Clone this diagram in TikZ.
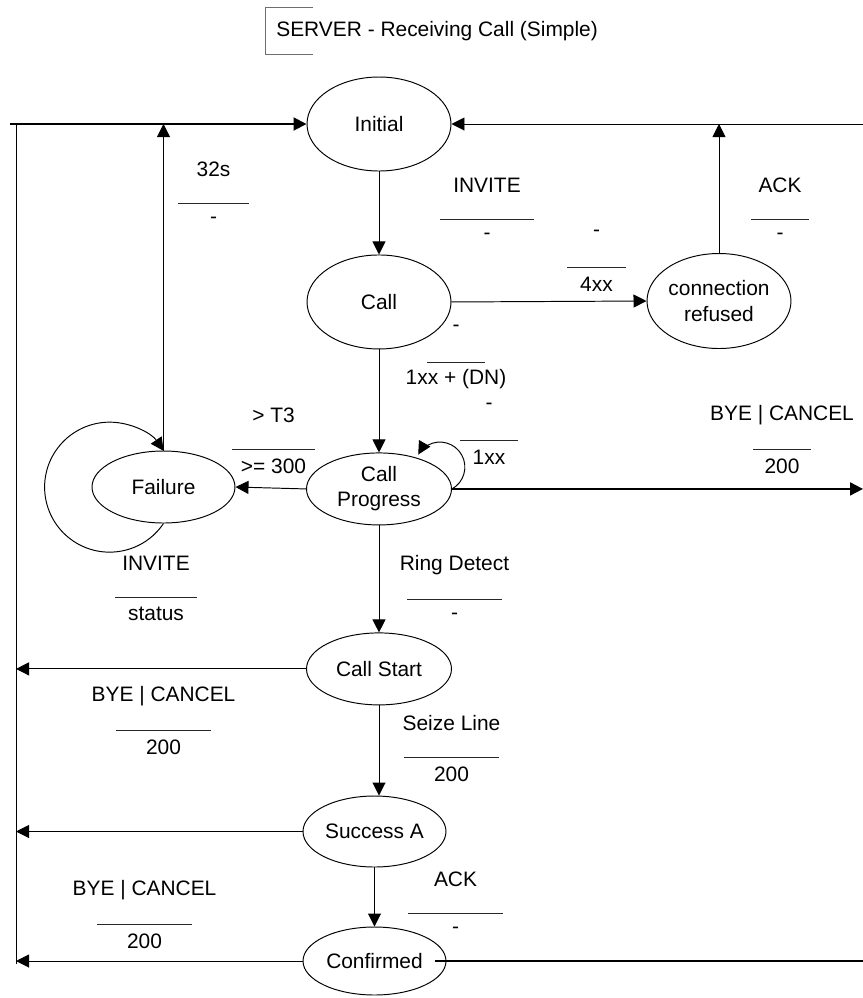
\documentclass[tikz,border=0pt]{standalone}
\usepackage{fontspec}
\setmainfont{Liberation Sans}
\usepackage{tikz}
\usetikzlibrary{shapes.geometric, arrows.meta, positioning, calc}
\definecolor{cgray}{RGB}{110, 110, 110}
\definecolor{cbar}{RGB}{40, 40, 40}

% guard label: name, x, y of the bar, half bar length, event, action
\newcommand{\guard}[6]{%
  \node[glabel] (#1-ev) at (#2,#3+0.68) {#5};
  \draw[gbar] (#2-#4,#3) -- (#2+#4,#3);
  \node[glabel] (#1-act) at (#2,#3-0.34) {#6};
}

\begin{document}
\begin{tikzpicture}[
  font=\fontsize{11.9}{14.3}\selectfont,
  state/.style={ellipse, draw, line width=0.55pt, inner sep=0pt, align=center,
    minimum width=2.88cm, minimum height=1.44cm},
  arrow/.style={-{Triangle[length=0.26cm, width=0.26cm]}, line width=0.55pt},
  wire/.style={line width=0.55pt},
  bus/.style={line width=1.1pt},
  glabel/.style={inner sep=1pt},
  gbar/.style={line width=0.5pt, color=cbar},
]
\useasboundingbox (0,0) rectangle (17.26,-19.96);

% ---- Title ----
\node[anchor=west, inner sep=0pt] (title) at (5.52,-0.62) {SERVER - Receiving Call (Simple)};
\draw[wire, color=cgray] ($(title.west)+(0.74,0.48)$) -- ++(-0.96,0) -- ++(0,-0.94) -- ++(0.96,0);

% ---- States ----
\node[state, minimum height=1.88cm] (init) at (7.58,-2.48) {Initial};
\node[state, minimum height=1.88cm, below=1.66cm of init] (call) {Call};
\node[state, minimum height=1.90cm] (refused) at (14.38,-6.02) {connection\\refused};
\node[state, minimum width=2.90cm, below=2.06cm of call] (prog) {Call\\Progress};
\node[state, minimum width=2.86cm] (fail) at (3.27,-9.74) {Failure};
\node[state, minimum width=2.90cm, below=2.14cm of prog] (start) {Call Start};
\node[state, minimum width=2.86cm, minimum height=1.42cm] (succ) at (7.49,-16.63) {Success A};
\node[state, minimum width=2.86cm, minimum height=1.36cm] (conf) at (7.49,-19.22) {Confirmed};

% ---- Rails ----
\coordinate (lt) at (0.20,-2.48);
\coordinate (lv) at (0.32,-2.48);
\coordinate (lb) at (0.32,-19.28);
\coordinate (rt) at (17.26,-2.48);

\draw[wire] (lv) -- (lb);
\draw[arrow, bus] (lt) -- (init.west);
\draw[arrow] (rt) -- (init.east);

% ---- Transitions ----
\draw[arrow] (init.south) -- (call.north);
\draw[arrow] (call.east) -- (refused.west);
\draw[arrow] (refused.north) -- (refused.north |- rt);
\draw[arrow] (call.south) -- (prog.north);
\draw[arrow] (prog.west) -- (fail.east);
\draw[arrow] (fail.north) -- (fail.north |- lt);
\draw[arrow] (fail.south) arc[start angle=-34, end angle=-326, radius=1.3cm];
\draw[arrow] (prog.east) arc[start angle=-61, end angle=150, radius=0.5cm];
\draw[arrow, bus] (prog.east) -- (prog.east -| rt);
\draw[arrow] (prog.south) -- (start.north);
\draw[arrow] (start.west) -- (start.west -| lb);
\draw[arrow] (start.south) -- (start.south |- succ.north);
\draw[arrow] (succ.west) -- (succ.west -| lb);
\draw[arrow] (succ.south) -- (conf.north);
\draw[arrow] (conf.west) -- (conf.west -| lb);
\draw[bus] ([xshift=-0.22cm]conf.east) -- (conf.east -| rt);

% ---- Guards (event over action) ----
\guard{g32s}{4.27}{-4.06}{0.71}{32s}{-}
\guard{ginv}{9.74}{-4.38}{0.94}{INVITE}{-}
\guard{g4xx}{11.93}{-5.34}{0.59}{-}{4xx}
\guard{gack}{15.60}{-4.38}{0.58}{ACK}{-}
\guard{g1xxdn}{9.12}{-7.24}{0.58}{-}{1xx + (DN)}
\guard{g1xx}{9.78}{-8.80}{0.58}{-}{1xx}
\guard{gt3}{5.47}{-8.98}{0.83}{> T3}{>= 300}
\guard{gbyeP}{15.64}{-8.98}{0.58}{BYE | CANCEL}{200}
\guard{ginvF}{3.12}{-11.94}{0.82}{INVITE}{status}
\guard{gring}{9.09}{-11.98}{0.95}{Ring Detect}{-}
\guard{gbyeS}{3.27}{-14.60}{0.95}{BYE | CANCEL}{200}
\guard{gseize}{9.03}{-15.14}{0.95}{Seize Line}{200}
\guard{gbyeA}{2.89}{-18.48}{0.95}{BYE | CANCEL}{200}
\guard{gack2}{9.11}{-18.26}{0.95}{ACK}{-}

\end{tikzpicture}
\end{document}
